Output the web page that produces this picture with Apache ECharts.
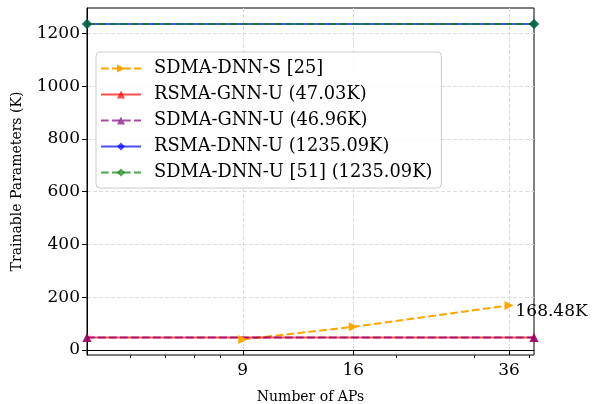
<!DOCTYPE html>
<html><head><meta charset="utf-8">
<script src="https://cdn.jsdelivr.net/npm/echarts@6/dist/echarts.min.js"></script>
<style>html,body{margin:0;padding:0;background:#fff}#c{width:592px;height:404px}</style>
</head><body><div id="c"></div>
<script>
const xTicks = [9, 16, 36];
const xMinorTicks = [5, 6, 7, 8, 20, 30, 40];
const yTicks = [0, 200, 400, 600, 800, 1000, 1200];
const sdmaDnnSX = [9, 16, 36];
const sdmaDnnSY = [40, 88, 168.48];
const flatX = [4, 41];
const rsmaGnnU = [47.03, 47.03];
const sdmaGnnU = [46.96, 46.96];
const rsmaDnnU = [1235.09, 1235.09];
const sdmaDnnU = [1235.09, 1235.09];
const names = ['SDMA-DNN-S [25]', 'RSMA-GNN-U (47.03K)', 'SDMA-GNN-U (46.96K)', 'RSMA-DNN-U (1235.09K)', 'SDMA-DNN-U [51] (1235.09K)'];

const FONT = 'DejaVu Serif';
const DASH = [7.7, 3.3];
const pairs = (xs, ys) => xs.map((x, i) => [x, ys[i]]);

function mk(name, data, color, dashed, symbol, rot, size) {
  return {
    name, type: 'line', data, xAxisIndex: 0, yAxisIndex: 0,
    symbol, symbolSize: size, symbolRotate: rot || 0,
    lineStyle: { color, width: 2, type: dashed ? DASH : 'solid' },
    itemStyle: { color },
    clip: true, animation: false
  };
}

const s0 = mk(names[0], pairs(sdmaDnnSX, sdmaDnnSY), '#ffa500', true, 'triangle', -90, 9);
s0.label = {
  show: true, position: 'right', distance: 2, offset: [0, 6],
  fontFamily: FONT, fontSize: 17, color: '#000',
  formatter: p => p.dataIndex === sdmaDnnSX.length - 1 ? p.value[1] + 'K' : ''
};

const option = {
  backgroundColor: '#fff',
  animation: false,
  grid: { left: 87, right: 58, top: 8, bottom: 49, outerBoundsMode: 'none', containLabel: false,
    show: true, borderColor: '#000', borderWidth: 1, backgroundColor: 'transparent' },
  xAxis: [{
    type: 'log', logBase: 10, min: 4, max: 41,
    name: 'Number of APs', nameLocation: 'middle', nameGap: 35,
    nameTextStyle: { fontFamily: FONT, fontSize: 14, color: '#000' },
    axisLine: { show: true, lineStyle: { color: '#000', width: 1 } },
    axisTick: { show: true, length: 5, inside: false, customValues: xTicks, lineStyle: { color: '#000' } },
    axisLabel: { customValues: xTicks, fontFamily: FONT, fontSize: 17, color: '#000', margin: 7 },
    splitLine: { show: true, lineStyle: { color: '#dcdcdc', type: [4, 2], width: 1 } },
    minorTick: { show: false }
  }, {
    type: 'log', logBase: 10, min: 4, max: 41, position: 'bottom', gridIndex: 0,
    axisLine: { show: false },
    axisTick: { show: true, length: 3, customValues: xMinorTicks, lineStyle: { color: '#000' } },
    axisLabel: { show: false },
    splitLine: { show: false }
  }],
  yAxis: [{
    type: 'value', min: -19, max: 1296,
    name: 'Trainable Parameters (K)', nameLocation: 'middle', nameGap: 63,
    nameTextStyle: { fontFamily: FONT, fontSize: 14, color: '#000' },
    axisLine: { show: true, lineStyle: { color: '#000', width: 1 } },
    axisTick: { show: true, length: 5, customValues: yTicks, lineStyle: { color: '#000' } },
    axisLabel: { customValues: yTicks, fontFamily: FONT, fontSize: 17, color: '#000', margin: 7, formatter: v => String(v) },
    splitLine: { show: true, lineStyle: { color: '#dcdcdc', type: [4, 2], width: 1 } }
  }],
  legend: {
    orient: 'vertical', left: 96, top: 52,
    padding: [6, 9, 5, 4],
    itemWidth: 40, itemHeight: 10, itemGap: 5,
    backgroundColor: 'rgba(255,255,255,0.85)', borderColor: '#cccccc', borderWidth: 1, borderRadius: 4,
    textStyle: { fontFamily: FONT, fontSize: 17.8, color: '#000', lineHeight: 21, padding: [0, 0, 0, 8] },
    data: names
  },
  series: [
    s0,
    mk(names[1], pairs(flatX, rsmaGnnU), 'rgba(255,0,0,0.7)', false, 'triangle', 0, 9),
    mk(names[2], pairs(flatX, sdmaGnnU), 'rgba(128,0,128,0.7)', true, 'triangle', 0, 9),
    mk(names[3], pairs(flatX, rsmaDnnU), 'rgba(0,0,255,0.7)', false, 'diamond', 0, 10),
    mk(names[4], pairs(flatX, sdmaDnnU), 'rgba(0,128,0,0.7)', true, 'diamond', 0, 10)
  ]
};
const chart = echarts.init(document.getElementById('c'), null, { renderer: 'canvas' });
chart.setOption(option);
</script></body></html>
